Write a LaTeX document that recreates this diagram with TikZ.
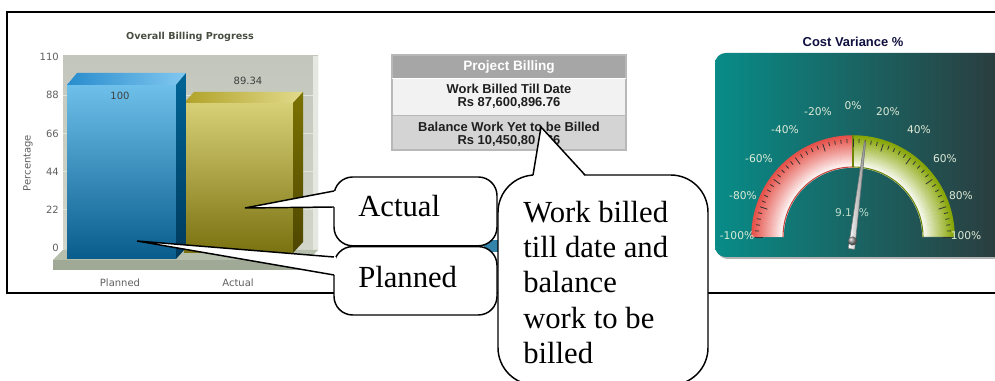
\documentclass[tikz,border=0pt]{standalone}
\usepackage{fontspec}
\setmainfont{Liberation Serif}
\newfontfamily\vfont{DejaVu Sans}
\newfontfamily\afont{Liberation Sans}
\definecolor{wallA}{RGB}{194,198,188}
\definecolor{wallB}{RGB}{210,214,202}
\definecolor{wallside}{RGB}{228,232,224}
\definecolor{gridc}{RGB}{224,230,216}
\definecolor{floortop}{RGB}{182,190,172}
\definecolor{floorfront}{RGB}{160,168,150}
\definecolor{bfT}{RGB}{110,192,234}
\definecolor{bfB}{RGB}{8,92,140}
\definecolor{btL}{RGB}{40,140,205}
\definecolor{btR}{RGB}{130,200,240}
\definecolor{bsT}{RGB}{0,100,150}
\definecolor{bsB}{RGB}{0,58,92}
\definecolor{ofT}{RGB}{216,208,118}
\definecolor{ofB}{RGB}{122,114,16}
\definecolor{otL}{RGB}{176,162,40}
\definecolor{otR}{RGB}{226,218,140}
\definecolor{osT}{RGB}{124,114,0}
\definecolor{osB}{RGB}{78,70,0}
\definecolor{axgrey}{RGB}{96,96,96}
\definecolor{ttlgrey}{RGB}{72,78,66}
\definecolor{hdrc}{RGB}{166,166,166}
\definecolor{rowA}{RGB}{242,242,242}
\definecolor{rowB}{RGB}{212,212,212}
\definecolor{tabb}{RGB}{184,184,184}
\definecolor{panelL}{RGB}{8,140,136}
\definecolor{panelR}{RGB}{44,58,60}
\definecolor{gred}{RGB}{230,80,72}
\definecolor{ggreen}{RGB}{136,166,6}
\definecolor{gtext}{RGB}{222,234,214}
\definecolor{navy}{RGB}{16,16,64}
\definecolor{tickc}{RGB}{50,50,50}
\begin{document}
\begin{tikzpicture}[x=0.75pt,y=0.75pt,
  callout/.style={draw=black, line width=1.1pt, fill=white},
  wedgeline/.style={draw=black, line width=1.1pt, line join=miter},
  ctext/.style={font=\fontsize{23}{26.3}\selectfont, inner sep=0, align=left},
  axl/.style={font=\vfont\fontsize{7.5}{9}\selectfont, text=axgrey, inner sep=0},
  tabt/.style={font=\afont\bfseries\fontsize{9.7}{11}\selectfont, inner sep=0, text=black!88},
  gl/.style={font=\vfont\fontsize{8}{9}\selectfont, text=gtext, inner sep=0}]
\useasboundingbox (0,0) rectangle (995,381);
\clip (0,0) rectangle (995,381);
\fill[white] (0,0) rectangle (995,381);

% outer frame
\draw[line width=1.5pt] (1005,369) -- (7,369) -- (7,88) -- (1005,88);

% ---------- bar chart ----------
\node[font=\vfont\bfseries\fontsize{7.2}{8}\selectfont, text=ttlgrey] (ctitle) at (190,344) {Overall Billing Progress};
\shade[top color=wallA, bottom color=wallB] (63,131) rectangle (318,325);
\fill[wallside] (313,131) rectangle (318,325);
\foreach \v in {22,44,66,88}
  \draw[gridc, line width=0.8pt] (63,{133+\v*1.736}) -- (313,{133+\v*1.736});
\foreach \v in {0,22,44,66,88,110}
  \node[axl, anchor=east] (yl\v) at (59,{133+\v*1.736}) {\v};
\node[axl, rotate=90] (ylab) at (28,218) {Percentage};
% floor
\fill[floortop] (53,121) -- (63,131) -- (318,131) -- (308,121) -- cycle;
\fill[floorfront] (53,111) rectangle (308,121);
% olive bar
\shade[top color=ofT, bottom color=ofB] (184,128) rectangle (293,278);
\shade[left color=otL, right color=otR] (184,278) -- (194,289) -- (303,289) -- (293,278) -- cycle;
\shade[top color=osT, bottom color=osB] (293,278) -- (303,289) -- (303,139) -- (293,128) -- cycle;
% blue bar
\shade[top color=bfT, bottom color=bfB] (67,122) rectangle (176,296);
\shade[left color=btL, right color=btR] (67,296) -- (77,308) -- (186,308) -- (176,296) -- cycle;
\shade[top color=bsT, bottom color=bsB] (176,296) -- (186,308) -- (186,133) -- (176,122) -- cycle;
\node[axl, text=black!75] (v100) at (120,285) {100};
\node[axl, text=black!75] (v89) at (248,300) {89.34};
\node[axl] (cplan) at (120,98) {Planned};
\node[axl] (cact) at (238,98) {Actual};
% partly hidden chart element between the callouts
\fill[bsT!80!white] (484,129) rectangle (498,141);

% ---------- project billing table ----------
\fill[hdrc] (392,303) rectangle (626,326);
\fill[rowA] (392,266) rectangle (626,302);
\fill[rowB] (392,231) rectangle (626,265);
\draw[tabb, line width=0.8pt] (392,231) rectangle (626,326);
\draw[white, line width=0.8pt] (392,302.5) -- (626,302.5);
\draw[tabb, line width=0.8pt] (392,265.5) -- (626,265.5);
\node[tabt, text=white, font=\afont\bfseries\fontsize{10.2}{12}\selectfont] (thdr) at (509,314) {Project Billing};
\node[tabt] (tr1a) at (509,292) {Work Billed Till Date};
\node[tabt] (tr1b) at (509,278) {Rs 87,600,896.76};
\node[tabt] (tr2a) at (509,254) {Balance Work Yet to be Billed};
\node[tabt] (tr2b) at (509,240) {Rs 10,450,80\phantom{9.}66};

% ---------- gauge ----------
\node[font=\afont\bfseries\fontsize{9.7}{11}\selectfont, text=navy, inner sep=0] (gtitle) at (853,339) {Cost Variance \%};
\fill[black!30, rounded corners=8] (717,122) rectangle (1010,326);
\shade[left color=panelL, right color=panelR, rounded corners=8] (715,124) rectangle (1008,328);
\coordinate (gc) at (853,144);
\foreach \i in {0,...,31}{
  \pgfmathtruncatemacro\p{round(100*(\i/31)^0.9)}
  \pgfmathsetmacro\r{70+\i}
  \draw[line width=1.1pt, gred!\p!white] (gc) ++(180:\r) arc[start angle=180, end angle=90, radius=\r];
  \draw[line width=1.1pt, ggreen!\p!white] (gc) ++(90:\r) arc[start angle=90, end angle=0, radius=\r];
}
\draw[gred!85!black, line width=0.8pt] (gc) ++(180:70) arc[start angle=180, end angle=90, radius=70];
\draw[ggreen!80!black, line width=0.8pt] (gc) ++(90:70) arc[start angle=90, end angle=0, radius=70];
\draw[ggreen!80!black, line width=0.8pt] (gc) ++(90:70) -- ++(90:31.5);
\foreach \k in {0,...,50}{
  \pgfmathsetmacro\a{\k*3.6}
  \pgfmathsetmacro\len{mod(\k,5)==0 ? 8 : 4}
  \draw[tickc, line width=0.6pt] (gc) ++(\a:98) -- ++(\a:-\len);
}
\node[gl] (gm100) at (737,145) {-100\%};
\node[gl] (gm80) at (743,185) {-80\%};
\node[gl] (gm60) at (759,222) {-60\%};
\node[gl] (gm40) at (785,251) {-40\%};
\node[gl] (gm20) at (818,269) {-20\%};
\node[gl] (g0) at (853,275) {0\%};
\node[gl] (gp20) at (888,269) {20\%};
\node[gl] (gp40) at (919,251) {40\%};
\node[gl] (gp60) at (945,222) {60\%};
\node[gl] (gp80) at (961,185) {80\%};
\node[gl] (gp100) at (966,145) {100\%};
\node[gl, text=gtext!85!panelL] (gval) at (852,168) {9.1\phantom{3}\%};
\begin{scope}[shift={(gc)}, rotate=-7.2]
  \shade[left color=white, right color=black!45, draw=black!55, line width=0.4pt]
    (-3.2,-12) -- (3.2,-12) -- (0.7,96) -- (-0.7,96) -- cycle;
  \shade[ball color=black!45] (0,-4) circle (4.5);
\end{scope}

% ---------- callouts ----------
\coordinate (tipA) at (245,173);
\coordinate (tipP) at (137,140);
\coordinate (tipW) at (541,254);
% Actual
\draw[callout, rounded corners=14] (334,135.2) rectangle (497,204);
\fill[white] (335.8,190) -- (tipA) -- (335.8,174) -- cycle;
\draw[wedgeline] (334,190) -- (tipA) -- (334,174);
\node[ctext, anchor=base west] (tActual) at (358,164) {Actual};
% Planned
\draw[callout, rounded corners=14] (334,66) rectangle (497,134.4);
\fill[white] (335.8,124) -- (tipP) -- (335.8,106) -- cycle;
\draw[wedgeline] (334,124) -- (tipP) -- (334,106);
\node[ctext, anchor=base west] (tPlanned) at (358,93) {Planned};
% Work billed
\draw[callout, rounded corners=28] (498,-4) rectangle (708,206);
\fill[white] (533,204.2) -- (tipW) -- (585,204.2) -- cycle;
\draw[wedgeline] (533,206) -- (tipW) -- (585,206);
\node[ctext, anchor=west] (tWork) at (523,98.5) {Work billed\\till date and\\balance\\work to be\\billed};
\end{tikzpicture}
\end{document}
